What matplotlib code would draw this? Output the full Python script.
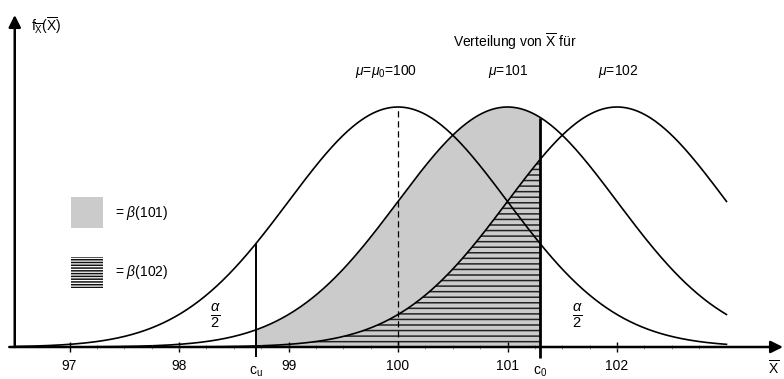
import numpy as np
import matplotlib.pyplot as plt
from matplotlib.patches import Rectangle

plt.rcParams['font.family'] = ['Liberation Sans', 'DejaVu Sans']
plt.rcParams['mathtext.fontset'] = 'custom'
plt.rcParams['mathtext.rm'] = 'Liberation Sans'
plt.rcParams['mathtext.it'] = 'Liberation Sans:italic'
plt.rcParams['hatch.linewidth'] = 1.1

# data
means = [100, 101, 102]
mean_labels = [r'$\mu$=$\mu_0$=100', r'$\mu$=101', r'$\mu$=102']
sigma = 1.0
c_u = 98.7
c_o = 101.3
x_ticks = [97, 98, 99, 100, 101, 102]
x_start, x_end = 96.5, 103.0


def pdf(x, mu):
    return np.exp(-0.5 * ((x - mu) / sigma) ** 2) / (sigma * np.sqrt(2 * np.pi))


# pixel mapping: 109.5 px per unit, 100 at px 398; baseline px 347, peak height 240 px
px_x = 109.5
px_y = 240 / pdf(0, 0)


def X(px):
    return 100 + (px - 398) / px_x


def Y(py):
    return (347 - py) / px_y


fig = plt.figure(figsize=(7.84, 3.79), dpi=100)
ax = fig.add_axes([0, 0, 1, 1])
ax.set_xlim(X(0), X(784))
ax.set_ylim(Y(379), Y(0))
for s in ax.spines.values():
    s.set_visible(False)
ax.set_yticks([])

x = np.linspace(x_start, x_end, 600)
for mu in means:
    ax.plot(x, pdf(x, mu), color='k', lw=1.2, zorder=3)

# beta areas
xs = np.linspace(c_u, c_o, 300)
ax.fill_between(xs, 0, pdf(xs, 101), color='#cbcbcb', lw=0, zorder=1)
ax.fill_between(xs, 0, pdf(xs, 102), facecolor='none', edgecolor='#222222',
                hatch='---', lw=0, zorder=2)

# critical values
ax.vlines(c_u, Y(357), pdf(c_u, 100), color='k', lw=1.4, zorder=4)
ax.vlines(c_o, Y(358), pdf(c_o, 101), color='k', lw=2.0, zorder=4)
ax.vlines(100, 0, pdf(100, 100), color='k', lw=0.9, linestyles=(0, (5, 3)), zorder=4)

# axes with arrows
ax.annotate('', xy=(X(783), 0), xytext=(x_start - 0.05, 0),
            arrowprops=dict(arrowstyle='-|>', lw=1.8, color='k', mutation_scale=18,
                            shrinkA=0, shrinkB=0), zorder=5)
ax.annotate('', xy=(x_start, Y(15)), xytext=(x_start, 0),
            arrowprops=dict(arrowstyle='-|>', lw=1.8, color='k', mutation_scale=18,
                            shrinkA=0, shrinkB=0), zorder=5)

# ticks
ax.spines['bottom'].set_position(('data', 0))
ax.set_xticks(x_ticks)
ax.set_xticklabels([str(t) for t in x_ticks], fontsize=10)
ax.tick_params(axis='x', which='major', direction='inout', length=7, width=1.0, pad=5)
ax.vlines(np.arange(97.25, 102.8, 0.25), Y(349), Y(345), color='#888888', lw=0.6, zorder=4)

ax.text(c_u, Y(372), r'c$_\mathrm{u}$', fontsize=10, ha='center', va='center')
ax.text(c_o, Y(372), r'c$_\mathrm{0}$', fontsize=10, ha='center', va='center')
ax.text(X(774), Y(368), r'$\overline{\mathrm{X}}$', fontsize=10, ha='center', va='center')
ax.text(X(31), Y(26), r'f$_{\overline{\mathrm{X}}}$($\overline{\mathrm{X}}$)',
        fontsize=10, ha='left', va='center')

# labels for distributions
ax.text(X(515), Y(42), r'Verteilung von $\overline{\mathrm{X}}$ für',
        fontsize=10, ha='center', va='center')
for lab, cx in zip(mean_labels, [386, 508, 618]):
    ax.text(X(cx), Y(72), lab, fontsize=10, ha='center', va='center')

# alpha/2
for a_px in [215, 577]:
    ax.text(X(a_px), Y(316), r'$\frac{\alpha}{2}$', fontsize=15, ha='center', va='center')

# legend boxes
ax.add_patch(Rectangle((X(71), Y(228)), 32 / px_x, 31 / px_y,
                       facecolor='#cbcbcb', edgecolor='none'))
ax.add_patch(Rectangle((X(71), Y(288)), 32 / px_x, 31 / px_y,
                       facecolor='white', edgecolor='#111111', hatch='------', lw=0))
ax.text(X(115), Y(213), r'= $\beta$(101)', fontsize=10, ha='left', va='center')
ax.text(X(115), Y(272), r'= $\beta$(102)', fontsize=10, ha='left', va='center')

fig.savefig('out.png', dpi=100)
